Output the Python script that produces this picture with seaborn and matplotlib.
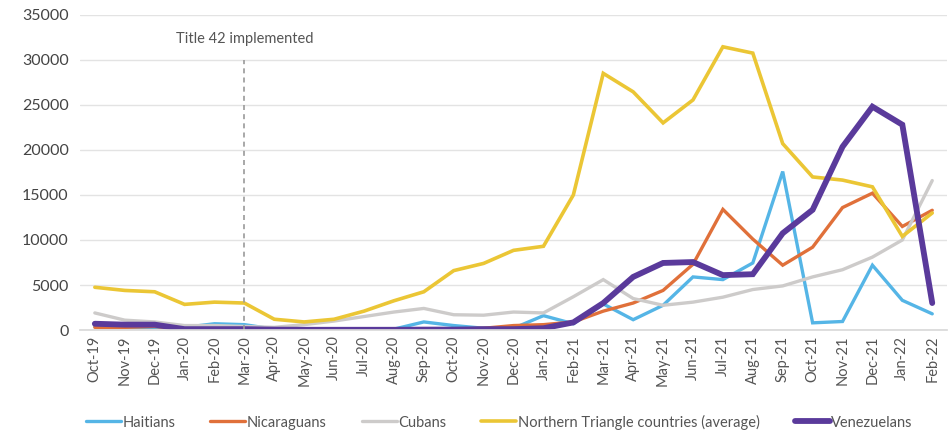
import matplotlib
matplotlib.use("Agg")
import matplotlib.pyplot as plt
import seaborn as sns
import pandas as pd

months = ["Oct-19", "Nov-19", "Dec-19", "Jan-20", "Feb-20", "Mar-20", "Apr-20", "May-20",
          "Jun-20", "Jul-20", "Aug-20", "Sep-20", "Oct-20", "Nov-20", "Dec-20", "Jan-21",
          "Feb-21", "Mar-21", "Apr-21", "May-21", "Jun-21", "Jul-21", "Aug-21", "Sep-21",
          "Oct-21", "Nov-21", "Dec-21", "Jan-22", "Feb-22"]

haitians = [400, 300, 300, 300, 700, 600, 100, 50, 50, 50, 100, 900, 500, 200, 200, 1600,
            700, 2900, 1150, 2750, 5900, 5600, 7450, 17600, 800, 950, 7200, 3300, 1800]
nicaraguans = [300, 300, 400, 100, 100, 100, 50, 50, 50, 50, 50, 100, 100, 200, 500, 600,
               900, 2100, 3000, 4400, 7300, 13400, 10100, 7200, 9200, 13600, 15200, 11500, 13300]
cubans = [1900, 1100, 900, 500, 500, 400, 300, 600, 1000, 1500, 2000, 2400, 1700, 1650, 2000,
          1900, 3700, 5600, 3500, 2750, 3100, 3650, 4500, 4900, 5900, 6700, 8100, 10000, 16600]
northern_triangle = [4750, 4400, 4250, 2850, 3100, 3000, 1200, 900, 1200, 2100, 3250, 4250,
                     6600, 7400, 8850, 9300, 15000, 28500, 26450, 23000, 25550, 31450, 30750,
                     20700, 17000, 16650, 15900, 10400, 13000]
venezuelans = [700, 600, 600, 100, 100, 100, 50, 30, 30, 30, 30, 50, 50, 100, 100, 200,
               850, 3000, 5900, 7450, 7550, 6100, 6200, 10750, 13350, 20350, 24800, 22800, 3000]

series_names = ["Haitians", "Nicaraguans", "Cubans", "Northern Triangle countries (average)", "Venezuelans"]
series_values = [haitians, nicaraguans, cubans, northern_triangle, venezuelans]
colors = ["#55b5e6", "#e0703a", "#cdcbca", "#ebc635", "#5a3a9b"]
widths = [2.4, 2.4, 2.4, 2.6, 4.2]

rows = []
for name, vals in zip(series_names, series_values):
    for i, (m, v) in enumerate(zip(months, vals)):
        rows.append({"idx": i, "month": m, "value": v, "series": name})
df = pd.DataFrame(rows)

sns.set_theme(style="white")
plt.rcParams["font.family"] = ["Lato", "DejaVu Sans"]

fig = plt.figure(figsize=(9.51, 4.36), dpi=100)
ax = fig.add_axes([0.084, 0.243, 0.912, 0.723])

for name, col, lw in zip(series_names, colors, widths):
    sub = df[df["series"] == name]
    sns.lineplot(data=sub, x="idx", y="value", color=col, linewidth=lw, ax=ax,
                 label=name, legend=False, solid_joinstyle="miter")

ax.set_xlim(-0.5, len(months) - 0.5)
ax.set_ylim(0, 35000)
ax.set_yticks(range(0, 35001, 5000))
ax.set_yticklabels([str(v) for v in range(0, 35001, 5000)], fontsize=11.5, color="#444444")
ax.set_xticks(range(len(months)))
ax.set_xticklabels(months, rotation=90, fontsize=10.5, color="#555555")
ax.grid(axis="y", color="#e3e3e3", linewidth=1)
ax.set_xlabel("")
ax.set_ylabel("")
for s in ["top", "right", "left"]:
    ax.spines[s].set_visible(False)
ax.spines["bottom"].set_color("#d9d9d9")
ax.tick_params(axis="x", length=0, pad=4)
ax.tick_params(axis="y", length=0, pad=8)
ax.set_xticks([i + 0.5 for i in range(len(months) - 1)], minor=True)
ax.tick_params(axis="x", which="minor", length=4, color="#d9d9d9")

ax.axvline(5, ymin=0, ymax=30000 / 35000, color="#9a9a9a", linestyle=(0, (3, 2.5)), linewidth=1.2)
ax.text(5, 32300, "Title 42 implemented", ha="center", va="center", fontsize=10.5, color="#555555")

handles, labels = ax.get_legend_handles_labels()
fig.legend(handles, labels, loc="center", bbox_to_anchor=(0.525, 0.032), ncol=5, frameon=False,
           fontsize=10.5, handlelength=2.4, handletextpad=0.1, columnspacing=2.4,
           labelcolor="#555555")

fig.savefig("out.png", dpi=100)
